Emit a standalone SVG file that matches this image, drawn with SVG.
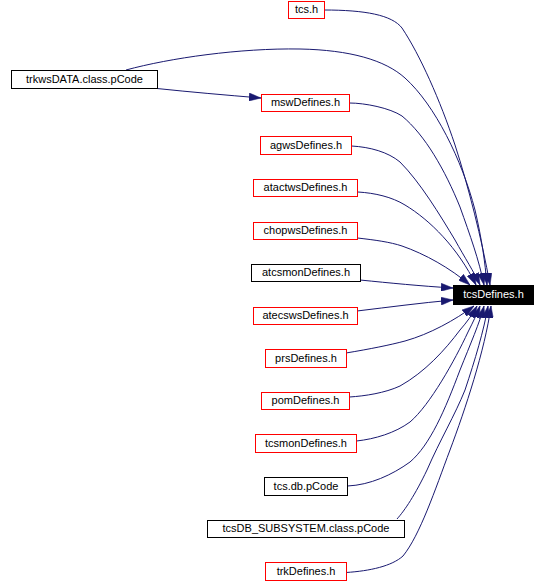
<svg xmlns="http://www.w3.org/2000/svg" width="546" height="583" viewBox="0 0 546 583">
<style>
  .node rect { fill: #ffffff; stroke-width: 1; }
  .red rect { stroke: #ff0000; }
  .blk rect { stroke: #000000; }
  .node text { font-family: "Liberation Sans", Arial, sans-serif; font-size: 11px; fill: #000000; text-anchor: middle; }
  #n_tcsDefines rect { fill: #000000; stroke: #000000; }
  #n_tcsDefines text { fill: #ffffff; }
  .edges path { fill: none; stroke: #191970; stroke-width: 1; marker-end: url(#arr); }
</style>
<defs>
  <marker id="arr" markerUnits="userSpaceOnUse" markerWidth="12" markerHeight="8" refX="12" refY="4" orient="auto" viewBox="0 0 12 8">
    <path d="M0,0 L12,4 L0,8 z" fill="#191970" stroke="#191970" stroke-width="0.5"/>
  </marker>
</defs>
<rect x="0" y="0" width="546" height="583" fill="#ffffff"/>
<g class="edges" id="edges">
  <path d="M324,10 C365,10 392,15 402,28 C420,55 440,100 455,145 C468,185 482,240 490,285"/>
  <path d="M126,70 C170,58 240,48 300,49 C350,50 385,60 405,78 C435,105 462,160 475,210 C482,240 485,262 487,285"/>
  <path d="M157,88.5 C190,92 225,95 261,98"/>
  <path d="M349.5,103 C365,103 390,108 402,116 C425,135 445,170 460,207 C470,235 479,260 484,285"/>
  <path d="M351.5,146 C370,147 388,152 400,162 C420,182 440,215 455,240 C465,258 474,272 480,285"/>
  <path d="M358,192 C375,193 392,197 405,205 C430,220 458,248 476,285"/>
  <path d="M357.5,238 C375,240 390,242 402,246 C425,254 450,268 470,285"/>
  <path d="M360,280 C390,283 420,286 453,288"/>
  <path d="M357,311 C390,307 420,303 453,300"/>
  <path d="M346,353 C370,349 390,345 405,341 C430,334 455,320 474,306"/>
  <path d="M349.5,397 C365,396 385,393 400,386 C425,372 445,350 460,330 C467,322 472,315 477,306"/>
  <path d="M356.5,441 C375,439 395,433 410,422 C430,405 455,360 468,332 C473,322 477,314 480,306"/>
  <path d="M347.5,486 C370,485 392,475 410,462 C430,445 445,410 460,370 C470,345 480,322 484,306"/>
  <path d="M397,519 C405,510 415,495 427,470 C440,440 455,415 465,390 C475,360 484,330 488,306"/>
  <path d="M346,572.5 C370,571 392,566 403,556 C420,535 435,490 450,450 C465,410 485,350 491,306"/>
</g>
<g class="node red" id="n_tcs_h"><rect x="288.5" y="1.5" width="36" height="17"/><text x="306.5" y="13">tcs.h</text></g>
<g class="node blk" id="n_trkwsDATA"><rect x="11.5" y="70.5" width="146" height="18"/><text x="84.5" y="83">trkwsDATA.class.pCode</text></g>
<g class="node red" id="n_mswDefines"><rect x="261.5" y="94.5" width="88" height="17"/><text x="305.5" y="106">mswDefines.h</text></g>
<g class="node red" id="n_agwsDefines"><rect x="260.5" y="136.5" width="91" height="18"/><text x="306" y="149">agwsDefines.h</text></g>
<g class="node red" id="n_atactwsDefines"><rect x="253.5" y="179.5" width="104" height="17"/><text x="305.5" y="191">atactwsDefines.h</text></g>
<g class="node red" id="n_chopwsDefines"><rect x="253.5" y="222.5" width="104" height="17"/><text x="305.5" y="234">chopwsDefines.h</text></g>
<g class="node blk" id="n_atcsmonDefines"><rect x="251.5" y="264.5" width="109" height="17"/><text x="306" y="276">atcsmonDefines.h</text></g>
<g class="node" id="n_tcsDefines"><rect x="453.5" y="285.5" width="80" height="19"/><text x="493.5" y="298">tcsDefines.h</text></g>
<g class="node red" id="n_atecswsDefines"><rect x="253.5" y="307.5" width="104" height="17"/><text x="305.5" y="319">atecswsDefines.h</text></g>
<g class="node red" id="n_prsDefines"><rect x="265.5" y="349.5" width="81" height="18"/><text x="306" y="362">prsDefines.h</text></g>
<g class="node red" id="n_pomDefines"><rect x="261.5" y="392.5" width="88" height="17"/><text x="305.5" y="404">pomDefines.h</text></g>
<g class="node red" id="n_tcsmonDefines"><rect x="255.5" y="434.5" width="101" height="18"/><text x="306" y="447">tcsmonDefines.h</text></g>
<g class="node blk" id="n_tcs_db"><rect x="264.5" y="477.5" width="83" height="18"/><text x="306" y="490">tcs.db.pCode</text></g>
<g class="node blk" id="n_tcsDB_SUBSYSTEM"><rect x="207.5" y="520.5" width="197" height="17"/><text x="306" y="532">tcsDB_SUBSYSTEM.class.pCode</text></g>
<g class="node red" id="n_trkDefines"><rect x="265.5" y="562.5" width="81" height="18"/><text x="306" y="575">trkDefines.h</text></g>
</svg>
